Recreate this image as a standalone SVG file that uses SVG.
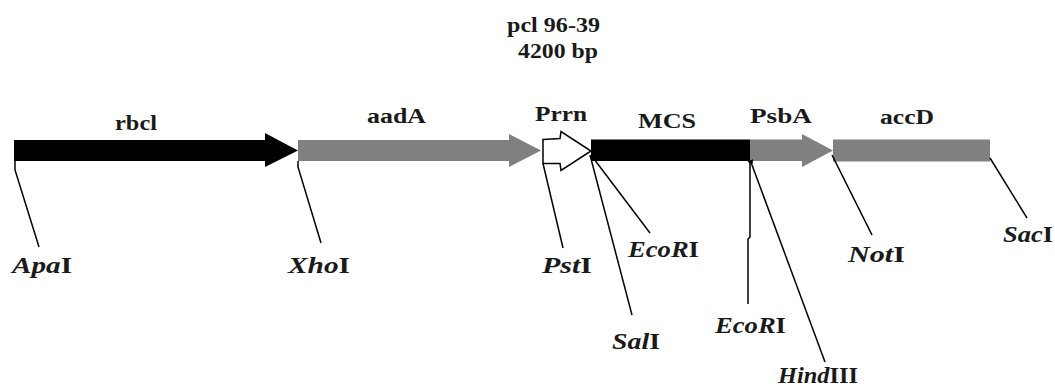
<svg xmlns="http://www.w3.org/2000/svg" width="1055" height="388" viewBox="0 0 1055 388">
<defs>
<style>
text{font-family:"Liberation Serif","Times New Roman",serif;font-weight:bold;fill:#1a1a1a}
.lab{font-size:20px}
.enz{font-size:23px}
.it{font-style:italic}
.gray{fill:#808080}
.blk{fill:#000}
.ln{fill:none;stroke:#000;stroke-width:1.5}
</style>
<marker id="ah" markerWidth="6" markerHeight="6" refX="1" refY="3" orient="auto-start-reverse" markerUnits="userSpaceOnUse">
<path d="M0,3 L6,0 L6,6 Z" fill="#000"/>
</marker>
</defs>
<rect width="1055" height="388" fill="#fff"/>

<g id="title">
<text class="lab" x="507" y="32" textLength="93" lengthAdjust="spacingAndGlyphs">pcl 96-39</text>
<text class="lab" x="518" y="58" textLength="80" lengthAdjust="spacingAndGlyphs">4200 bp</text>
</g>

<g id="rbcl">
<path class="blk" d="M14,140 H265 V133 L298,150.5 L265,167 V161 H14 Z"/>
<text class="lab" x="115" y="130" textLength="42" lengthAdjust="spacingAndGlyphs">rbcl</text>
</g>
<g id="aadA">
<path class="gray" d="M298,140 H509 V134 L541,150.5 L509,167 V161 H298 Z"/>
<text class="lab" x="367" y="123" textLength="59" lengthAdjust="spacingAndGlyphs">aadA</text>
</g>
<g id="Prrn">
<path d="M543,139.5 L560,138.5 L561,131.5 L591,151 L561,170.5 L560,163.5 L543,163.5 Z" fill="#fff" stroke="#000" stroke-width="1.5" stroke-linejoin="miter"/>
<text class="lab" x="535" y="121" textLength="52" lengthAdjust="spacingAndGlyphs">Prrn</text>
</g>
<g id="MCS">
<rect class="blk" x="591" y="139.5" width="159" height="21.5"/>
<text class="lab" x="638" y="127.5" textLength="58" lengthAdjust="spacingAndGlyphs">MCS</text>
</g>
<g id="PsbA">
<path class="gray" d="M750,139.5 H802 V134 L833,150.5 L802,167 V161 H750 Z"/>
<text class="lab" x="750" y="123" textLength="62" lengthAdjust="spacingAndGlyphs">PsbA</text>
</g>
<g id="accD">
<rect class="gray" x="833" y="139.5" width="157" height="22"/>
<text class="lab" x="880" y="123.5" textLength="54" lengthAdjust="spacingAndGlyphs">accD</text>
</g>

<g id="connectors">
<polyline class="ln" points="15,161 15,170 39,247"/>
<polyline class="ln" points="298,161 298,167 321,243"/>
<polyline class="ln" points="543,163.5 563,248"/>
<polyline class="ln" points="590,155 632,315"/>
<polyline class="ln" points="591,155 650,233"/>
<polyline class="ln" points="750,162 750,237 748,239 748,304"/>
<polyline class="ln" points="752,165 825,362" marker-start="url(#ah)"/>
<polyline class="ln" points="832,155 872,235"/>
<polyline class="ln" points="990,158 1027,218"/>
</g>

<g id="ApaI"><text class="enz" x="12" y="273" textLength="60" lengthAdjust="spacingAndGlyphs"><tspan class="it">Apa</tspan>I</text></g>
<g id="XhoI"><text class="enz" x="288" y="273" textLength="62" lengthAdjust="spacingAndGlyphs"><tspan class="it">Xho</tspan>I</text></g>
<g id="PstI"><text class="enz" x="542" y="273" textLength="50" lengthAdjust="spacingAndGlyphs"><tspan class="it">Pst</tspan>I</text></g>
<g id="EcoRI-1"><text class="enz" x="628" y="257" textLength="71" lengthAdjust="spacingAndGlyphs"><tspan class="it">EcoR</tspan>I</text></g>
<g id="SalI"><text class="enz" x="612" y="349" textLength="48" lengthAdjust="spacingAndGlyphs"><tspan class="it">Sal</tspan>I</text></g>
<g id="EcoRI-2"><text class="enz" x="715" y="333" textLength="71" lengthAdjust="spacingAndGlyphs"><tspan class="it">EcoR</tspan>I</text></g>
<g id="HindIII"><text class="enz" x="778" y="383" textLength="80" lengthAdjust="spacingAndGlyphs"><tspan class="it">Hind</tspan>III</text></g>
<g id="NotI"><text class="enz" x="848" y="262" textLength="57" lengthAdjust="spacingAndGlyphs"><tspan class="it">Not</tspan>I</text></g>
<g id="SacI"><text class="enz" x="1003" y="242" textLength="50" lengthAdjust="spacingAndGlyphs"><tspan class="it">Sac</tspan>I</text></g>
</svg>
